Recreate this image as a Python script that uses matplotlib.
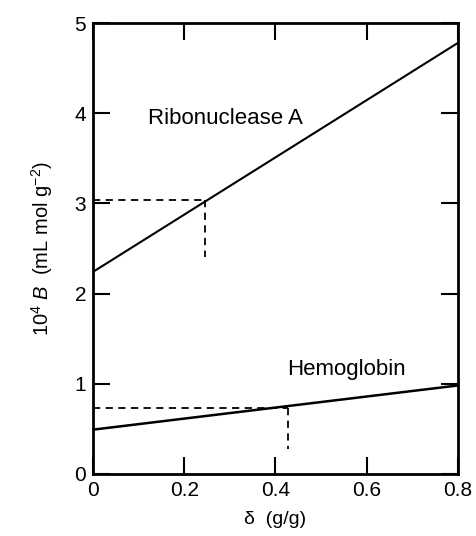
import matplotlib
matplotlib.use('Agg')
import matplotlib.pyplot as plt

plt.rcParams['font.family'] = ['Liberation Sans', 'DejaVu Sans']
plt.rcParams['mathtext.fontset'] = 'custom'
plt.rcParams['mathtext.rm'] = 'Liberation Sans'
plt.rcParams['mathtext.it'] = 'Liberation Sans:italic'

# data
delta = [0.0, 0.8]
ribo_B = [2.24, 4.78]
hemo_B = [0.49, 0.98]

# dashed guide lines (x, y of the marked point, lower end of vertical dash)
ribo_mark = (0.245, 3.04, 2.40)
hemo_mark = (0.428, 0.73, 0.27)

xticks = [0, 0.2, 0.4, 0.6, 0.8]
xticklabels = ['0', '0.2', '0.4', '0.6', '0.8']
yticks = [0, 1, 2, 3, 4, 5]

fig = plt.figure(figsize=(4.77, 5.36), dpi=100)
ax = fig.add_axes([0.195, 0.116, 0.765, 0.841])

ax.plot(delta, ribo_B, color='black', lw=1.5)
ax.plot(delta, hemo_B, color='black', lw=1.8)

for mx, my, mlow in [ribo_mark, hemo_mark]:
    ax.plot([0, mx], [my, my], color='black', lw=1.3, ls=(0, (4, 3)))
    ax.plot([mx, mx], [my, mlow], color='black', lw=1.3, ls=(0, (4, 3)))

ax.text(0.12, 3.94, 'Ribonuclease A', fontsize=16, va='center', ha='left')
ax.text(0.425, 1.16, 'Hemoglobin', fontsize=16, va='center', ha='left')

ax.set_xlim(0, 0.8)
ax.set_ylim(0, 5)
ax.set_xticks(xticks)
ax.set_xticklabels(xticklabels)
ax.set_yticks(yticks)
ax.tick_params(direction='in', length=12, width=1.5, top=True, right=True,
               labelsize=15, pad=5)

for s in ax.spines.values():
    s.set_linewidth(2)

ax.set_xlabel('δ  (g/g)', fontsize=14, labelpad=8)
ax.set_ylabel(r'10$^4$ $\mathit{B}$  (mL mol g$^{-2}$)', fontsize=14.5, labelpad=14)

fig.savefig('out.png', dpi=100)
